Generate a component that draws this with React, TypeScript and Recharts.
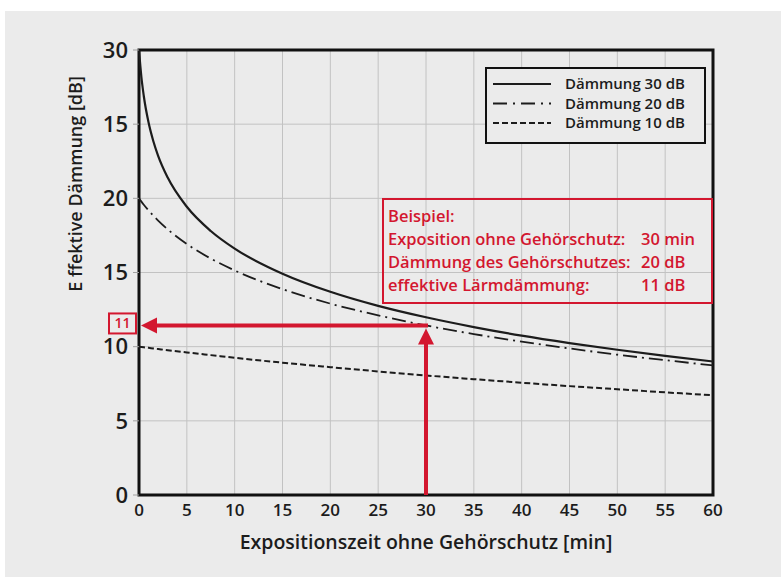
import React from "react";
import {
  LineChart,
  Line,
  XAxis,
  YAxis,
  CartesianGrid,
  ReferenceArea,
  ReferenceLine,
  ReferenceDot,
} from "recharts";

// Exposure time without hearing protection [min]
const minutes = [0, 0.25, 0.5, 1, 1.5, 2, 3, 5, 7.5, 10, 15, 20, 25, 30, 35, 40, 45, 50, 55, 60];
const daemmung30 = [30, 28.18, 26.9, 25.11, 23.85, 22.87, 21.4, 19.43, 17.8, 16.61, 14.92, 13.7, 12.75, 11.98, 11.32, 10.74, 10.24, 9.79, 9.38, 9.0];
const daemmung20 = [20, 19.78, 19.57, 19.19, 18.83, 18.5, 17.91, 16.92, 15.94, 15.14, 13.88, 12.9, 12.11, 11.43, 10.85, 10.34, 9.88, 9.46, 9.09, 8.74];
const daemmung10 = [10, 9.98, 9.96, 9.92, 9.88, 9.84, 9.76, 9.61, 9.43, 9.25, 8.92, 8.62, 8.33, 8.06, 7.81, 7.57, 7.34, 7.13, 6.92, 6.73];

const seriesNames = ["Dämmung 30 dB", "Dämmung 20 dB", "Dämmung 10 dB"];
const xTicks = [0, 5, 10, 15, 20, 25, 30, 35, 40, 45, 50, 55, 60];
const yTicks = [0, 5, 10, 15, 20, 25, 30];
const yTickLabels = ["0", "5", "10", "15", "20", "15", "30"];

const exampleTime = 30;
const exampleResult = 11.43;
const exampleLines = [
  ["Beispiel:", ""],
  ["Exposition ohne Gehörschutz:", "30 min"],
  ["Dämmung des Gehörschutzes:", "20 dB"],
  ["effektive Lärmdämmung:", "11 dB"],
];

const data = minutes.map((m, i) => ({
  m,
  d30: daemmung30[i],
  d20: daemmung20[i],
  d10: daemmung10[i],
}));

const RED = "#d3172f";
const INK = "#1c1c1c";
const BG = "#ebebeb";
const FONT = "'Open Sans', 'Noto Sans', sans-serif";
const dashes = [undefined, "14 5 2 5", "6 3"];
const widths = [2.2, 1.8, 2];

function HArrow(props: any) {
  const { x1, y1, x2 } = props;
  const tip = x2 + 2;
  return (
    <g>
      <line x1={x1 + 2} y1={y1} x2={tip + 14} y2={y1} stroke={RED} strokeWidth={4} />
      <polygon points={`${tip},${y1} ${tip + 16},${y1 - 8} ${tip + 16},${y1 + 8}`} fill={RED} />
    </g>
  );
}

function VArrow(props: any) {
  const { x1, y1, y2 } = props;
  const tip = y2 + 3;
  return (
    <g>
      <line x1={x1} y1={y1} x2={x1} y2={tip + 14} stroke={RED} strokeWidth={4} />
      <polygon points={`${x1},${tip} ${x1 - 8},${tip + 16} ${x1 + 8},${tip + 16}`} fill={RED} />
    </g>
  );
}

function ValueBox(props: any) {
  const { cx, cy } = props;
  return (
    <g>
      <rect x={cx - 30} y={cy - 12} width={27} height={20} fill="none" stroke={RED} strokeWidth={2} />
      <text x={cx - 16.5} y={cy + 3} textAnchor="middle" fill={RED} fontSize={14} fontWeight={600} fontFamily={FONT}>
        11
      </text>
    </g>
  );
}

export default function App() {
  return (
    <div style={{ position: "absolute", left: 0, top: 0, width: 781, height: 577, background: "#fff" }}>
      <div style={{ position: "absolute", left: 5, top: 11, right: 0, bottom: 0, background: BG }} />
      <div style={{ position: "absolute", left: 0, top: 0 }}>
        <LineChart width={781} height={577} data={data} margin={{ top: 50, right: 68, bottom: 0, left: 79 }}>
          <CartesianGrid stroke="#c2c2c2" strokeWidth={1} />
          <XAxis
            dataKey="m"
            type="number"
            domain={[0, 60]}
            ticks={xTicks}
            height={82}
            axisLine={false}
            tickLine={false}
            tickSize={4}
            tickMargin={5}
            tick={{ fontSize: 17, fill: INK, fontWeight: 600, fontFamily: FONT }}
            label={{
              value: "Expositionszeit ohne Gehörschutz [min]",
              position: "insideBottom",
              offset: 28,
              fill: INK,
              fontSize: 19.5,
              fontWeight: 600,
              fontFamily: FONT,
            }}
          />
          <YAxis
            type="number"
            domain={[0, 30]}
            ticks={yTicks}
            width={60}
            axisLine={false}
            tickLine={{ stroke: "#a0a0a0" }}
            tickSize={6}
            tickMargin={5}
            tickFormatter={(v: number) => yTickLabels[yTicks.indexOf(v)]}
            tick={{ fontSize: 22, fill: INK, fontWeight: 600, fontFamily: FONT }}
          />
          {["d30", "d20", "d10"].map((key, i) => (
            <Line
              key={key}
              dataKey={key}
              name={seriesNames[i]}
              type="monotone"
              stroke={INK}
              strokeWidth={widths[i]}
              strokeDasharray={dashes[i]}
              dot={false}
              isAnimationActive={false}
            />
          ))}
          <ReferenceLine
            segment={[
              { x: exampleTime, y: 0 },
              { x: exampleTime, y: exampleResult },
            ]}
            shape={VArrow}
          />
          <ReferenceLine
            segment={[
              { x: exampleTime, y: exampleResult },
              { x: 0, y: exampleResult },
            ]}
            shape={HArrow}
          />
          <ReferenceDot x={0} y={exampleResult} ifOverflow="visible" shape={ValueBox} />
          <ReferenceArea x1={0} x2={60} y1={0} y2={30} fill="none" stroke="#111" strokeWidth={3} ifOverflow="visible" />
        </LineChart>
      </div>
      <svg width={781} height={577} style={{ position: "absolute", left: 0, top: 0, pointerEvents: "none" }}>
        <text
          x={82}
          y={184}
          transform="rotate(-90 82 184)"
          textAnchor="middle"
          fill={INK}
          fontSize={18}
          fontWeight={600}
          fontFamily={FONT}
        >
          E ffektive Dämmung [dB]
        </text>
        <g>
          <rect x={486} y={68} width={219} height={75} fill={BG} stroke="#111" strokeWidth={2} />
          {seriesNames.map((name, i) => (
            <g key={name}>
              <line
                x1={493}
                x2={551}
                y1={84 + i * 19.5}
                y2={84 + i * 19.5}
                stroke={INK}
                strokeWidth={widths[i]}
                strokeDasharray={i === 1 ? "14 6 2 6" : dashes[i]}
              />
              <text x={565} y={89 + i * 19.5} fill={INK} fontSize={15} fontWeight={600} fontFamily={FONT}>
                {name}
              </text>
            </g>
          ))}
        </g>
        <g>
          <rect x={383} y={199} width={329} height={104} fill="none" stroke={RED} strokeWidth={2} />
          {exampleLines.map(([label, value], i) => (
            <g key={label}>
              <text x={388} y={222 + i * 23} fill={RED} fontSize={16.5} fontWeight={600} fontFamily={FONT}>
                {label}
              </text>
              <text x={641} y={222 + i * 23} fill={RED} fontSize={16.5} fontWeight={600} fontFamily={FONT}>
                {value}
              </text>
            </g>
          ))}
        </g>
      </svg>
    </div>
  );
}
